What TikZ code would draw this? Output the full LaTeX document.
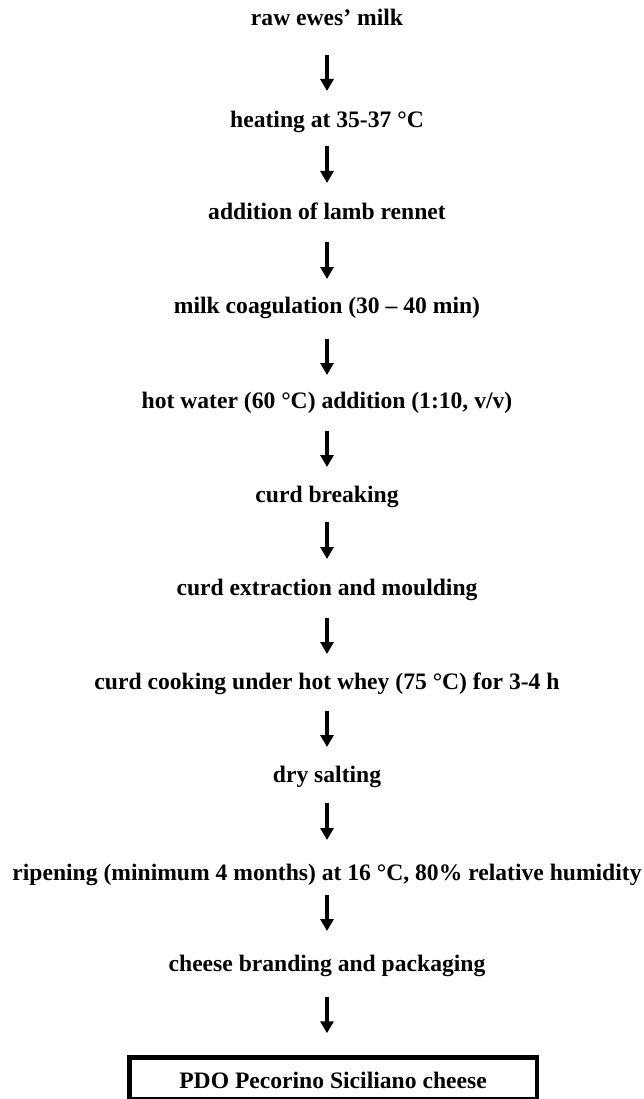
\documentclass[tikz,border=0pt]{standalone}
\usepackage{fontspec}
\setmainfont{Liberation Serif}
\usetikzlibrary{arrows.meta}
\begin{document}
\begin{tikzpicture}[x=1pt,y=-1pt,
  stepnode/.style={inner sep=0pt, anchor=base, font=\fontsize{23.6}{28}\selectfont\bfseries},
  arr/.style={line width=3.2pt, -{Triangle[width=13pt,length=12pt]}},
  finalbox/.style={draw, line width=4.5pt, inner sep=0pt, minimum width=407.5pt, minimum height=42pt, text height=19pt, text depth=0pt, font=\fontsize{23.6}{28}\selectfont\bfseries}]
\useasboundingbox (0,0) rectangle (644,1099);
\node[stepnode] (n1) at (327,26) {raw ewes’ milk};
\node[stepnode] (n2) at (327,128) {heating at 35-37 °C};
\node[stepnode] (n3) at (327,220) {addition of lamb rennet};
\node[stepnode] (n4) at (327,313) {milk coagulation (30 – 40 min)};
\node[stepnode] (n5) at (327,408) {hot water (60 °C) addition (1:10, v/v)};
\node[stepnode] (n6) at (327,502) {curd breaking};
\node[stepnode] (n7) at (327,595) {curd extraction and moulding};
\node[stepnode] (n8) at (327,689) {curd cooking under hot whey (75 °C) for 3-4 h};
\node[stepnode] (n9) at (327,782) {dry salting};
\node[stepnode] (n10) at (327,880) {ripening (minimum 4 months) at 16 °C, 80\% relative humidity};
\node[stepnode] (n11) at (327,971) {cheese branding and packaging};
\node[finalbox] (box) at (333,1078.5) {PDO Pecorino Siciliano cheese};
\draw[arr, shorten <=29pt, shorten >=37pt] (n1.base) -- (n2.base);
\draw[arr, shorten <=18pt, shorten >=37pt] (n2.base) -- (n3.base);
\draw[arr, shorten <=22pt, shorten >=34pt] (n3.base) -- (n4.base);
\draw[arr, shorten <=26pt, shorten >=33pt] (n4.base) -- (n5.base);
\draw[arr, shorten <=23pt, shorten >=35pt] (n5.base) -- (n6.base);
\draw[arr, shorten <=20pt, shorten >=36pt] (n6.base) -- (n7.base);
\draw[arr, shorten <=23pt, shorten >=35pt] (n7.base) -- (n8.base);
\draw[arr, shorten <=22pt, shorten >=35pt] (n8.base) -- (n9.base);
\draw[arr, shorten <=21pt, shorten >=40pt] (n9.base) -- (n10.base);
\draw[arr, shorten <=15pt, shorten >=40pt] (n10.base) -- (n11.base);
\draw[arr, shorten <=26pt, shorten >=22pt] (n11.base) -- (n11.base |- box.north);
\end{tikzpicture}
\end{document}
